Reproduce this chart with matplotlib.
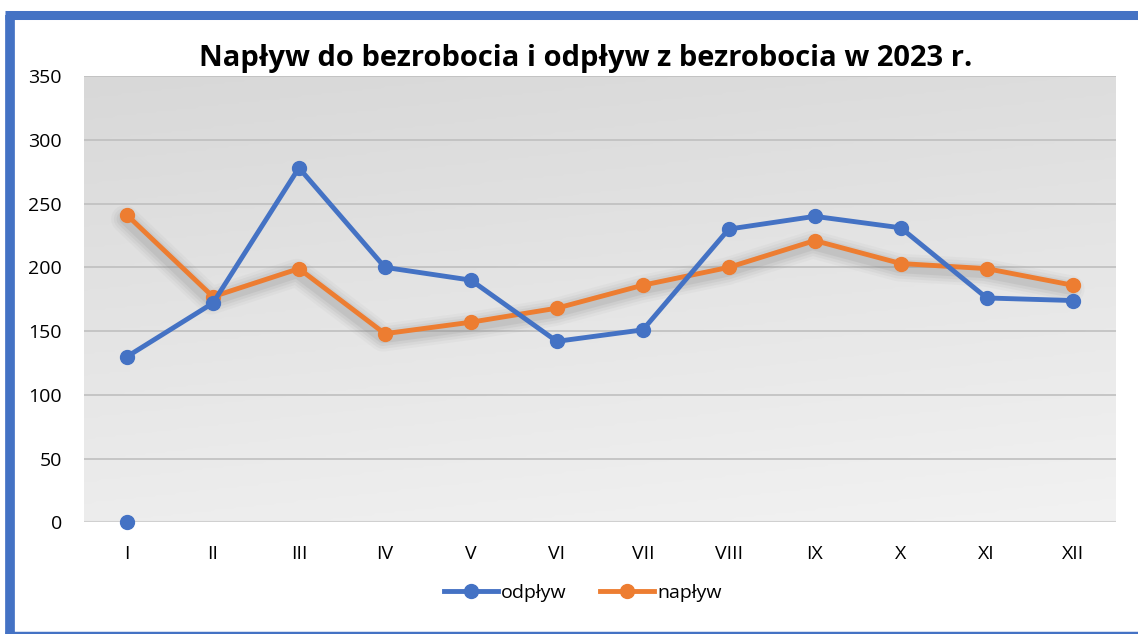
import numpy as np
import matplotlib.pyplot as plt
from matplotlib.lines import Line2D
import matplotlib.transforms as mtransforms

plt.rcParams['font.family'] = ['Open Sans', 'DejaVu Sans']

# dane
miesiace = ['I', 'II', 'III', 'IV', 'V', 'VI', 'VII', 'VIII', 'IX', 'X', 'XI', 'XII']
odplyw = [130, 172, 278, 200, 190, 142, 151, 230, 240, 231, 176, 174]
naplyw = [241, 177, 199, 148, 157, 168, 186, 200, 221, 203, 199, 186]
# pojedynczy punkt przy I (wartosc 0)
odplyw_punkt_x = [0]
odplyw_punkt_y = [0]

blue = '#4472C4'
orange = '#ED7D31'

fig = plt.figure(figsize=(11.38, 6.34), dpi=100)
ax = fig.add_axes([0.0738, 0.1759, 0.9066, 0.7042])

x = np.arange(len(miesiace))

# tlo z gradientem (lekko ukosnym)
gy, gx = np.mgrid[0:1:200j, 0:1:200j]
grad = 0.8 * gy + 0.2 * gx
ax.imshow(grad, extent=[-0.5, 11.5, 0, 350], aspect='auto', origin='upper',
          cmap=plt.matplotlib.colors.LinearSegmentedColormap.from_list('g', ['#d8d8d8', '#f2f2f2']),
          zorder=0)

for v in range(50, 351, 50):
    ax.axhline(v, color='#bfbfbf', lw=1.2, zorder=1)
ax.axhline(0, color='#d0d0d0', lw=1.5, zorder=1)

# cien pod linia naplywu
for lw, a in [(20, 0.05), (16, 0.07), (12, 0.09), (8, 0.12)]:
    off = mtransforms.offset_copy(ax.transData, fig=fig, x=-2, y=-4, units='dots')
    ax.plot(x, naplyw, color='#7a7a7a', lw=lw, alpha=a, solid_capstyle='round',
            solid_joinstyle='round', transform=off, zorder=2)

ax.plot(x, naplyw, color=orange, lw=3.5, marker='o', ms=10, zorder=3, label='napływ')
ax.plot(x, odplyw, color=blue, lw=3.5, marker='o', ms=10, zorder=4, label='odpływ')
ax.plot(odplyw_punkt_x, odplyw_punkt_y, 'o', color=blue, ms=10, zorder=4, clip_on=False)

ax.set_xlim(-0.5, 11.5)
ax.set_ylim(0, 350)
ax.set_xticks(x)
ax.set_xticklabels(miesiace)
ax.set_yticks(range(0, 351, 50))
ax.tick_params(axis='both', length=0, labelsize=14, colors='black')
ax.tick_params(axis='x', pad=16)
ax.tick_params(axis='y', pad=16)
for s in ax.spines.values():
    s.set_visible(False)

fig.text(0.515, 0.908, 'Napływ do bezrobocia i odpływ z bezrobocia w 2023 r.',
         ha='center', va='center', fontsize=21, fontweight='bold')

handles = [Line2D([], [], color=blue, lw=3.5, marker='o', ms=10),
           Line2D([], [], color=orange, lw=3.5, marker='o', ms=10)]
fig.legend(handles, ['odpływ', 'napływ'], loc='center', bbox_to_anchor=(0.512, 0.065),
           ncol=2, frameon=False, fontsize=14, handlelength=2.8, handletextpad=0.15,
           columnspacing=1.7)

# niebieska ramka (w pikselach od gory-lewej)
W, H = 1138, 634
def fx(px):
    return px / W
def fy(py):
    return 1 - py / H
fig.add_artist(Line2D([fx(10), fx(10)], [fy(14.5), fy(634)], color=blue, lw=7,
                      solid_capstyle='butt', transform=fig.transFigure))
fig.add_artist(Line2D([fx(5), fx(1138)], [fy(14.5), fy(14.5)], color=blue, lw=6.5,
                      solid_capstyle='butt', transform=fig.transFigure))
fig.add_artist(Line2D([fx(5), fx(1138)], [fy(632.5), fy(632.5)], color=blue, lw=2.5,
                      solid_capstyle='butt', transform=fig.transFigure))

fig.savefig('out.png', dpi=100)
